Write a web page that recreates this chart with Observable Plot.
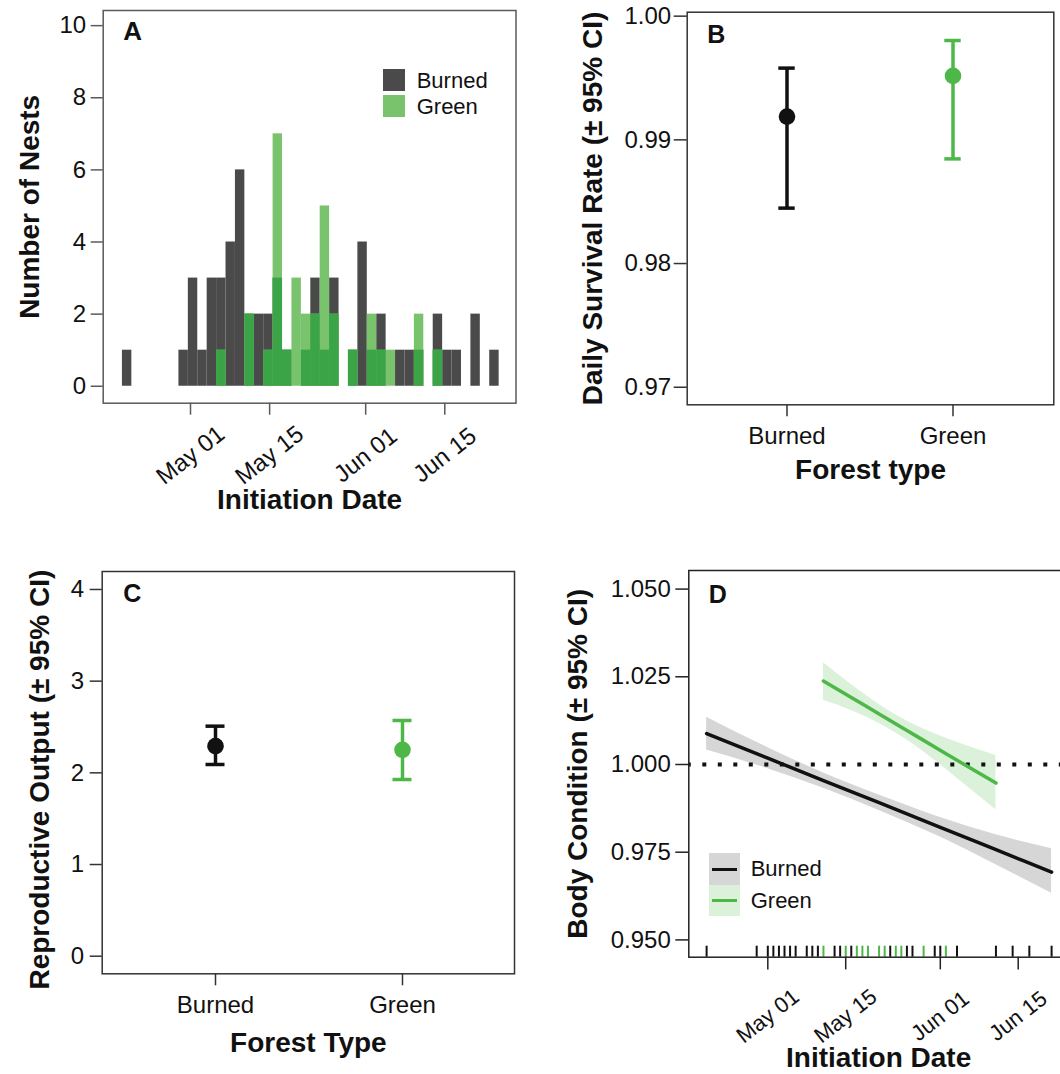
<!DOCTYPE html>
<html><head><meta charset="utf-8">
<script src="https://cdn.jsdelivr.net/npm/d3@7"></script>
<script src="https://cdn.jsdelivr.net/npm/@observablehq/plot@0.6"></script>
<style>
html,body{margin:0;padding:0;background:#fff;overflow:hidden}
#root{position:relative;width:1060px;height:1074px;overflow:hidden;background:#fff;font-family:"Liberation Sans",Arial,Helvetica,sans-serif}
#root svg{position:absolute}
.leg{position:absolute;font-size:22px;line-height:22px;color:#111;white-space:nowrap}
.sw{position:absolute}
</style></head><body><div id="root"></div>
<script>
const FONT = '"Liberation Sans", Arial, Helvetica, sans-serif';
const GREEN = "#4db848";

// ---------- Panel A: histogram of nest initiation dates (day of year) ----------
const histStartDoy = 108.95;      // left edge of first bin (day of year)
const histBinWidth = 1.6667;      // bin width (days)
const histBurned = [1,0,0,0,0,0,1,3,1,3,3,4,6,2,2,2,3,1,0,1,3,1,3,0,1,4,1,2,0,1,1,1,0,2,1,1,0,2,0,1];
const histGreen  = [0,0,0,0,0,0,0,0,0,0,1,0,0,2,0,1,7,1,3,2,2,5,2,0,1,0,2,1,1,0,0,2,0,1,0,0,0,0,0,0];
const dateTickDoy = [121, 135, 152, 166];
const dateTickLabels = ["May 01", "May 15", "Jun 01", "Jun 15"];
const countTicks = [0, 2, 4, 6, 8, 10];

// ---------- Panel B: daily survival rate ----------
const forestTypes = ["Burned", "Green"];
const dsrEst = [0.99188, 0.99517];
const dsrLo  = [0.98448, 0.98846];
const dsrHi  = [0.99580, 0.99803];
const dsrTicks = [0.97, 0.98, 0.99, 1.00];

// ---------- Panel C: reproductive output ----------
const roEst = [2.291, 2.251];
const roLo  = [2.091, 1.927];
const roHi  = [2.509, 2.571];
const roTicks = [0, 1, 2, 3, 4];

// ---------- Panel D: body condition vs initiation date ----------
const bcBurnedDoy = [110, 121, 131, 141, 152, 162, 172];
const bcBurnedFit = [1.0088, 1.0018, 0.9954, 0.9891, 0.9821, 0.9757, 0.9693];
const bcBurnedLo  = [1.0041, 0.9988, 0.9932, 0.9869, 0.9793, 0.9714, 0.9633];
const bcBurnedHi  = [1.0135, 1.0048, 0.9976, 0.9913, 0.9849, 0.9800, 0.9760];
const bcGreenDoy = [131, 136, 141, 146, 151, 156, 162];
const bcGreenFit = [1.0238, 1.0191, 1.0144, 1.0097, 1.0050, 1.0003, 0.9947];
const bcGreenLo  = [1.0183, 1.0154, 1.0117, 1.0070, 1.0012, 0.9948, 0.9871];
const bcGreenHi  = [1.0290, 1.0228, 1.0171, 1.0124, 1.0088, 1.0058, 1.0026];
const rugBurnedDoy = [110,119,121,122,123,124,125,126,128,129,130,133,134,136,143,146,147,151,152,155,162,165,168,172];
const rugGreenDoy  = [131,135,137,138,139,141,142,144,145,149,153];
const bcTicks = [0.950, 0.975, 1.000, 1.025, 1.050];

const root = document.getElementById("root");
const baseStyle = {fontFamily: FONT, background: "transparent", overflow: "visible", color: "#111"};
function place(svg, left, top) { svg.style.left = left + "px"; svg.style.top = top + "px"; root.appendChild(svg); }
function addDiv(cls, left, top, w, h, bg, text) {
  const d = document.createElement("div"); d.className = cls;
  d.style.left = left + "px"; d.style.top = top + "px";
  if (w != null) { d.style.width = w + "px"; d.style.height = h + "px"; }
  if (bg) d.style.background = bg;
  if (text) d.textContent = text;
  root.appendChild(d);
}
const yTitle = (label, dx, dy) => Plot.text([label], {text: d => d, frameAnchor: "left", dx, dy, rotate: -90, fontSize: 28, fontWeight: "bold", textAnchor: "middle", lineAnchor: "middle", fill: "#111"});
const xTitle = (label, dy) => Plot.text([label], {text: d => d, frameAnchor: "bottom", dy, fontSize: 28, fontWeight: "bold", textAnchor: "middle", lineAnchor: "top", fill: "#111"});
const panelLetter = (label, dx, dy, size) => Plot.text([label], {text: d => d, frameAnchor: "top-left", dx, dy, fontSize: size, fontWeight: "bold", textAnchor: "start", lineAnchor: "top", fill: "#111"});

// ===== Panel A =====
const bins = histBurned.map((b, i) => ({
  x1: histStartDoy + i * histBinWidth,
  x2: histStartDoy + (i + 1) * histBinWidth,
  burned: b, green: histGreen[i], both: Math.min(b, histGreen[i])
}));
const plotA = Plot.plot({
  width: 540, height: 540,
  marginLeft: 102.7, marginTop: 10, marginRight: 24.5, marginBottom: 137.3,
  style: baseStyle,
  x: {domain: [105.55, 178.6]},
  y: {domain: [-0.47, 10.42]},
  marks: [
    Plot.rect(bins, {x1: "x1", x2: "x2", y1: () => 0, y2: "burned", fill: "#4a4a4a"}),
    Plot.rect(bins, {x1: "x1", x2: "x2", y1: () => 0, y2: "green", fill: "#79c36d"}),
    Plot.rect(bins, {x1: "x1", x2: "x2", y1: () => 0, y2: "both", fill: "#3ba447"}),
    Plot.frame({stroke: "#5a5a5a", strokeWidth: 1.5}),
    Plot.axisY({ticks: countTicks, tickSize: 12, tickPadding: 5, fontSize: 24, label: null, stroke: "#5a5a5a", fill: "#111", strokeWidth: 1.5}),
    Plot.axisX({ticks: dateTickDoy, tickSize: 12, tickFormat: () => "", label: null, stroke: "#5a5a5a", strokeWidth: 1.5}),
    Plot.text(dateTickDoy, {x: d => d, text: (d, i) => dateTickLabels[i], frameAnchor: "bottom", dy: 52, rotate: -38, fontSize: 24, textAnchor: "middle", lineAnchor: "middle", fill: "#111"}),
    xTitle("Initiation Date", 85.6),
    yTitle("Number of Nests", -72.7, 0),
    panelLetter("A", 20, 11, 26)
  ]
});
place(plotA, 0, 0);
addDiv("sw", 382.7, 69, 22.3, 22, "#4a4a4a");
addDiv("sw", 382.7, 95, 22.3, 22, "#79c36d");
addDiv("leg", 416.7, 69.7, null, null, null, "Burned");
addDiv("leg", 416.7, 96.4, null, null, null, "Green");

// ===== Panel B =====
const dsr = forestTypes.map((t, i) => ({type: t, est: dsrEst[i], lo: dsrLo[i], hi: dsrHi[i]}));
const plotB = Plot.plot({
  width: 540, height: 540,
  marginLeft: 146.7, marginTop: 11.7, marginRight: 26.7, marginBottom: 135.7,
  style: baseStyle,
  x: {type: "band", domain: forestTypes, paddingInner: 0.5, paddingOuter: 0.35},
  y: {domain: [0.96858, 1.00032]},
  color: {domain: forestTypes, range: ["#111", GREEN]},
  marks: [
    Plot.frame({stroke: "#333", strokeWidth: 1.5}),
    Plot.axisY({ticks: dsrTicks, tickFormat: d3.format(".2f"), tickSize: 13, tickPadding: 3, fontSize: 24, label: null, stroke: "#333", fill: "#111", strokeWidth: 1.5}),
    Plot.axisX({tickSize: 12, tickPadding: 10, fontSize: 24, label: null, stroke: "#333", fill: "#111", strokeWidth: 1.5}),
    Plot.ruleX(dsr, {x: "type", y1: "lo", y2: "hi", stroke: "type", strokeWidth: 3.5}),
    Plot.tickY(dsr, {x: "type", y: "lo", stroke: "type", strokeWidth: 3.5, insetLeft: 33.3, insetRight: 33.3}),
    Plot.tickY(dsr, {x: "type", y: "hi", stroke: "type", strokeWidth: 3.5, insetLeft: 33.3, insetRight: 33.3}),
    Plot.dot(dsr, {x: "type", y: "est", fill: "type", r: 8.3}),
    xTitle("Forest type", 54),
    yTitle("Daily Survival Rate (± 95% CI)", -94, 0),
    panelLetter("B", 20, 13, 25)
  ]
});
place(plotB, 540, 0);

// ===== Panel C =====
const ro = forestTypes.map((t, i) => ({type: t, est: roEst[i], lo: roLo[i], hi: roHi[i]}));
const plotC = Plot.plot({
  width: 540, height: 534,
  marginLeft: 101.7, marginTop: 31, marginRight: 26, marginBottom: 100.7,
  style: baseStyle,
  x: {type: "band", domain: forestTypes, paddingInner: 0.5, paddingOuter: 0.35},
  y: {domain: [-0.192, 4.196]},
  color: {domain: forestTypes, range: ["#111", GREEN]},
  marks: [
    Plot.frame({stroke: "#333", strokeWidth: 1.5}),
    Plot.axisY({ticks: roTicks, tickFormat: d3.format("d"), tickSize: 12, tickPadding: 6, fontSize: 24, label: null, stroke: "#333", fill: "#111", strokeWidth: 1.5}),
    Plot.axisX({tickSize: 12, tickPadding: 10, fontSize: 24, label: null, stroke: "#333", fill: "#111", strokeWidth: 1.5}),
    Plot.ruleX(ro, {x: "type", y1: "lo", y2: "hi", stroke: "type", strokeWidth: 3.5}),
    Plot.tickY(ro, {x: "type", y: "lo", stroke: "type", strokeWidth: 3.5, insetLeft: 37.5, insetRight: 37.5}),
    Plot.tickY(ro, {x: "type", y: "hi", stroke: "type", strokeWidth: 3.5, insetLeft: 37.5, insetRight: 37.5}),
    Plot.dot(ro, {x: "type", y: "est", fill: "type", r: 8.3}),
    xTitle("Forest Type", 58.4),
    yTitle("Reproductive Output (± 95% CI)", -61.7, 7),
    panelLetter("C", 21, 13, 25)
  ]
});
place(plotC, 0, 540);

// ===== Panel D =====
const bcB = bcBurnedDoy.map((x, i) => ({doy: x, fit: bcBurnedFit[i], lo: bcBurnedLo[i], hi: bcBurnedHi[i]}));
const bcG = bcGreenDoy.map((x, i) => ({doy: x, fit: bcGreenFit[i], lo: bcGreenLo[i], hi: bcGreenHi[i]}));
const plotD = Plot.plot({
  width: 540, height: 534,
  marginLeft: 148.3, marginTop: 30, marginRight: 12, marginBottom: 117.3,
  style: baseStyle,
  x: {domain: [106.8, 175.04]},
  y: {domain: [0.94507, 1.0553]},
  marks: [
    Plot.areaY(bcB, {x: "doy", y1: "lo", y2: "hi", fill: "#d6d6d6", curve: "monotone-x"}),
    Plot.areaY(bcG, {x: "doy", y1: "lo", y2: "hi", fill: GREEN, fillOpacity: 0.2, curve: "monotone-x"}),
    Plot.ruleY([1], {stroke: "#111", strokeWidth: 4, strokeDasharray: "4 11.5", strokeDashoffset: -14}),
    Plot.line(bcB, {x: "doy", y: "fit", stroke: "#111", strokeWidth: 3.5, curve: "monotone-x"}),
    Plot.line(bcG, {x: "doy", y: "fit", stroke: GREEN, strokeWidth: 3.5, curve: "monotone-x"}),
    Plot.ruleX(rugBurnedDoy, {x: d => d, insetTop: 375.7, stroke: "#111", strokeWidth: 2}),
    Plot.ruleX(rugGreenDoy, {x: d => d, insetTop: 375.7, stroke: GREEN, strokeWidth: 2}),
    Plot.frame({stroke: "#222", strokeWidth: 1.5}),
    Plot.axisY({ticks: bcTicks, tickFormat: d3.format(".3f"), tickSize: 13, tickPadding: 5, fontSize: 24, label: null, stroke: "#222", fill: "#111", strokeWidth: 1.5}),
    Plot.axisX({ticks: dateTickDoy, tickSize: 12.7, tickFormat: () => "", label: null, stroke: "#222", strokeWidth: 1.5}),
    Plot.text(dateTickDoy, {x: d => d, text: (d, i) => dateTickLabels[i], frameAnchor: "bottom", dy: 59, rotate: -38, fontSize: 22, textAnchor: "middle", lineAnchor: "middle", fill: "#111"}),
    xTitle("Initiation Date", 90),
    yTitle("Body Condition (± 95% CI)", -110.3, 0),
    panelLetter("D", 20, 15, 25)
  ]
});
place(plotD, 540, 540);
addDiv("sw", 709, 853.3, 31, 31.7, "#d6d6d6");
addDiv("sw", 709, 885, 31, 31, "rgba(77,184,72,0.2)");
addDiv("sw", 711.7, 867.5, 25, 3.6, "#111");
addDiv("sw", 711.7, 898.9, 25, 3.6, GREEN);
addDiv("leg", 750.7, 858.1, null, null, null, "Burned");
addDiv("leg", 750.7, 889.7, null, null, null, "Green");
</script></body></html>
